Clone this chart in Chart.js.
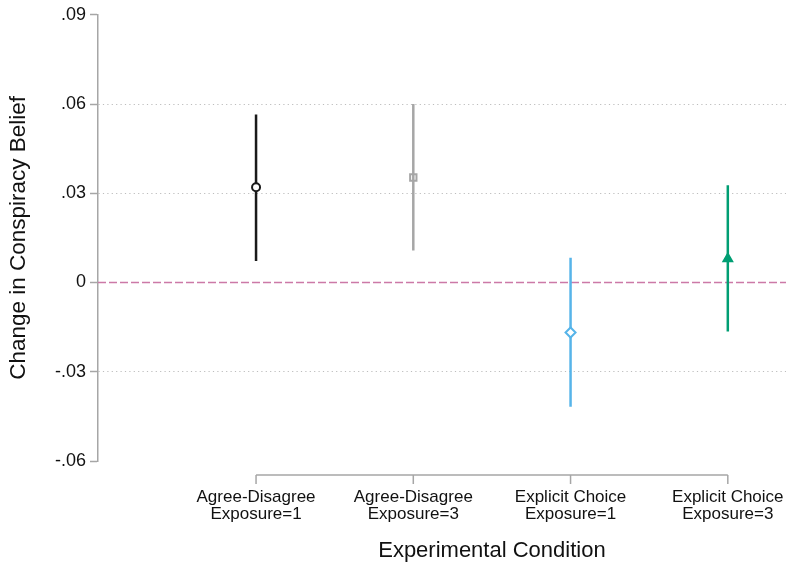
<!DOCTYPE html>
<html>
<head>
<meta charset="utf-8">
<script src="https://cdn.jsdelivr.net/npm/chart.js@4.4.1/dist/chart.umd.min.js"></script>
<style>
  html, body { margin: 0; padding: 0; background: #fff; }
  #wrap { width: 786px; height: 564px; }
</style>
</head>
<body>
<div id="wrap"><canvas id="myChart"></canvas></div>
<script>
// categories and estimates
const categories = [
    ['Agree-Disagree', 'Exposure=1'],
    ['Agree-Disagree', 'Exposure=3'],
    ['Explicit Choice', 'Exposure=1'],
    ['Explicit Choice', 'Exposure=3']
];
const estimates = [0.0320, 0.0353, -0.0168, 0.0080];
const ciLow = [0.0072, 0.0108, -0.0418, -0.0165];
const ciHigh = [0.0565, 0.0600, 0.0083, 0.0327];
const yTicks = [-0.06, -0.03, 0, 0.03, 0.06, 0.09];
const gridTicks = [-0.03, 0.03, 0.06];

const colors = ['#1a1a1a', '#a6a6a6', '#56b4e9', '#009e73'];
const markerStyles = ['circle', 'rect', 'rectRot', 'triangle'];
const markerFill = ['#ffffff', 'rgba(0,0,0,0)', '#ffffff', '#009e73'];
const markerSize = [4, 4.5, 5, 5];

const xMin = -1.005;
const xMax = 3.37;
const font = "'Liberation Sans', Arial, Helvetica, sans-serif";

function fmt(v) {
    if (Math.abs(v) < 1e-9) return '0';
    const s = Math.abs(v).toFixed(2).replace(/^0/, '');
    return (v < 0 ? '-' : '') + s;
}

// one line dataset per confidence interval
const ciSets = categories.map((c, i) => ({
    type: 'line',
    data: [{x: i, y: ciLow[i]}, {x: i, y: ciHigh[i]}],
    borderColor: colors[i],
    borderWidth: 2.5,
    pointRadius: 0,
    order: 2
}));

const zeroLine = {
    type: 'line',
    data: [{x: xMin, y: 0}, {x: xMax, y: 0}],
    borderColor: '#cc79a7',
    borderWidth: 1.5,
    borderDash: [8, 3],
    pointRadius: 0,
    order: 3
};

const pointSet = {
    type: 'scatter',
    data: estimates.map((v, i) => ({x: i, y: v})),
    pointStyle: markerStyles,
    pointRadius: markerSize,
    backgroundColor: markerFill,
    borderColor: colors,
    pointBorderWidth: 2,
    order: 1
};

// x axis drawn as a bracket between the first and last condition
const bracket = {
    id: 'bracket',
    afterDraw(chart) {
        const ctx = chart.ctx;
        const x = chart.scales.x;
        const x0 = x.getPixelForValue(0);
        const x3 = x.getPixelForValue(categories.length - 1);
        const yLine = 475;
        ctx.save();
        ctx.strokeStyle = '#a6a6a6';
        ctx.lineWidth = 1.5;
        ctx.beginPath();
        ctx.moveTo(x0, yLine);
        ctx.lineTo(x3, yLine);
        for (let i = 0; i < categories.length; i++) {
            const px = x.getPixelForValue(i);
            ctx.moveTo(px, yLine);
            ctx.lineTo(px, yLine + 9);
        }
        ctx.stroke();
        ctx.fillStyle = '#111';
        ctx.font = '22px ' + font;
        ctx.textAlign = 'center';
        ctx.textBaseline = 'middle';
        ctx.fillText('Experimental Condition', (x0 + x3) / 2, 551);
        ctx.restore();
    }
};

const config = {
    data: {datasets: [zeroLine, ...ciSets, pointSet]},
    options: {
        responsive: true,
        maintainAspectRatio: false,
        animation: false,
        events: [],
        layout: {autoPadding: false, padding: {top: 12, left: 0, right: 0, bottom: 0}},
        plugins: {legend: {display: false}, tooltip: {enabled: false}},
        scales: {
            x: {
                type: 'linear',
                min: xMin,
                max: xMax,
                afterBuildTicks: s => { s.ticks = categories.map((c, i) => ({value: i})); },
                afterFit: s => { s.height = 103; s.paddingLeft = 0; s.paddingRight = 0; },
                grid: {display: false, drawTicks: false},
                border: {display: false},
                ticks: {
                    autoSkip: false,
                    maxRotation: 0,
                    padding: 27,
                    color: '#111',
                    font: {family: font, size: 17, lineHeight: 1.05},
                    callback: v => categories[v]
                }
            },
            y: {
                type: 'linear',
                min: -0.06,
                max: 0.09,
                afterBuildTicks: s => { s.ticks = yTicks.map(v => ({value: v})); },
                afterFit: s => { s.width = 98; },
                border: {display: true, color: '#a6a6a6', width: 1.5, dash: [1.2, 3.2]},
                grid: {
                    color: c => gridTicks.some(t => Math.abs(t - c.tick.value) < 1e-6) ? '#bdbdbd' : 'rgba(0,0,0,0)',
                    lineWidth: 1,
                    tickColor: '#a6a6a6',
                    tickWidth: 1.5,
                    tickLength: 8
                },
                ticks: {
                    padding: 4,
                    color: '#111',
                    font: {family: font, size: 18},
                    callback: v => fmt(v)
                },
                title: {
                    display: true,
                    text: 'Change in Conspiracy Belief',
                    color: '#111',
                    font: {family: font, size: 22.5},
                    padding: {top: 5, bottom: 0}
                }
            }
        }
    },
    plugins: [bracket]
};

var chart = new Chart(document.getElementById('myChart'), config);
</script>
</body>
</html>
